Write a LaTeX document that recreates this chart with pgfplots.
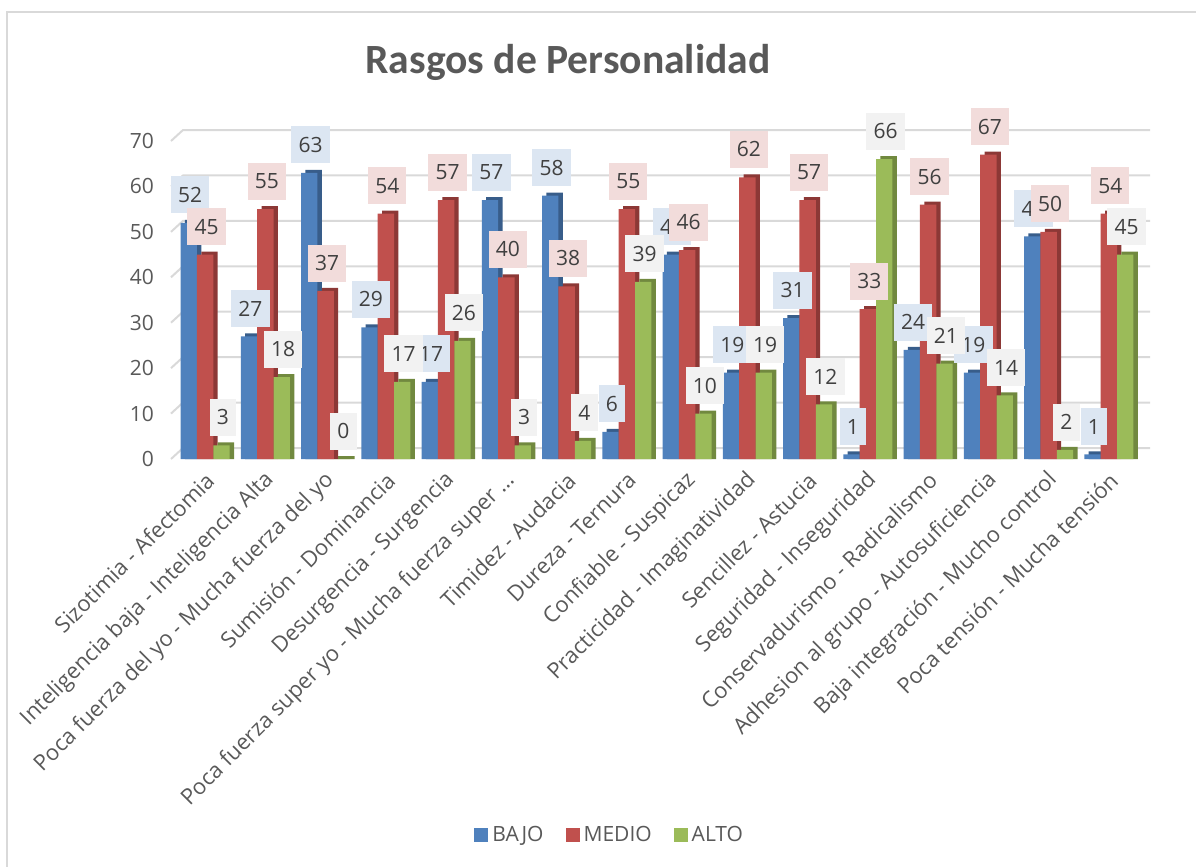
\documentclass[border=0pt]{standalone}
\usepackage{fontspec}
\setmainfont{Carlito}
\newfontfamily\osans{Open Sans}
\usepackage{pgfplots}
\usepackage{pgfplotstable}
\pgfplotsset{compat=1.18}

\definecolor{bajo}{HTML}{4F81BD}
\definecolor{bajod}{HTML}{385D8A}
\definecolor{bajol}{HTML}{DCE6F2}
\definecolor{medio}{HTML}{C0504D}
\definecolor{mediod}{HTML}{8C3836}
\definecolor{mediol}{HTML}{F2DCDB}
\definecolor{alto}{HTML}{9BBB59}
\definecolor{altod}{HTML}{71893F}
\definecolor{altol}{HTML}{F2F2F2}
\definecolor{txt}{HTML}{595959}
\definecolor{labtxt}{HTML}{404040}
\definecolor{gridc}{HTML}{D9D9D9}

\pgfplotstableread{
x bajo medio alto
0 52 45 3
1 27 55 18
2 63 37 0
3 29 54 17
4 17 57 26
5 57 40 3
6 58 38 4
7 6 55 39
8 45 46 10
9 19 62 19
10 31 57 12
11 1 33 66
12 24 56 21
13 19 67 14
14 49 50 2
15 1 54 45
}\rasgos

\tikzset{datalab/.style={font=\osans\fontsize{10.5}{12}\selectfont, text=labtxt,
  inner xsep=3.6pt, inner ysep=0pt, minimum height=18.5pt, anchor=south, yshift=4.5pt}}

\begin{document}
\begin{tikzpicture}
\useasboundingbox (0,0) rectangle (598pt,-433.5pt);
\draw[gridc, line width=1pt] (3.5pt,-440pt) -- (3.5pt,-6pt) -- (600pt,-6pt);
\node[font=\fontsize{20.8}{24}\selectfont\bfseries, text=txt] at (284pt,-31pt) {Rasgos de Personalidad};
\begin{axis}[
    at={(87.5pt,-229.5pt)}, anchor=south west,
    scale only axis, width=482pt, height=159pt,
    xmin=-0.5, xmax=15.5, ymin=0, ymax=70,
    ytick={0,10,20,30,40,50,60,70},
    xtick=data,
    xticklabels={{Sizotimia - Afectomia}, {Inteligencia baja - Inteligencia Alta},
      {Poca fuerza del yo - Mucha fuerza del yo}, {Sumisión - Dominancia},
      {Desurgencia - Surgencia}, {Poca fuerza super yo - Mucha fuerza super …},
      {Timidez - Audacia}, {Dureza - Ternura}, {Confiable - Suspicaz},
      {Practicidad - Imaginatividad}, {Sencillez - Astucia}, {Seguridad - Inseguridad},
      {Conservadurismo - Radicalismo}, {Adhesion al grupo - Autosuficiencia},
      {Baja integración - Mucho control}, {Poca tensión - Mucha tensión}},
    xticklabel style={rotate=45, anchor=east, font=\osans\fontsize{11}{13}\selectfont,
      text=txt, yshift=-8pt, xshift=-1pt},
    yticklabel style={font=\osans\fontsize{10.5}{12}\selectfont, text=txt, xshift=-7pt},
    /pgf/number format/assume math mode=true,
    axis line style={draw=none},
    major tick length=0pt,
    clip=false,
    legend style={at={(0.452,-1.182)}, anchor=center, draw=none,
      legend columns=3, font=\osans\fontsize{10.5}{12}\selectfont, text=txt,
      /tikz/every even column/.append style={column sep=9pt}},
    legend image code/.code={\fill[#1] (0pt,-3.5pt) rectangle (7pt,3.5pt);},
  ]
  \pgfplotsinvokeforeach{0,10,20,30,40,50,60,70}{
    \draw[gridc, line width=1pt] ([xshift=-2pt]axis cs:-0.5,#1) -- ++(6pt,5.5pt)
      -- ([xshift=5.5pt,yshift=5.5pt]axis cs:15.5,#1);
  }
  % BAJO
  \addplot[ybar, bar width=8.2pt, bar shift=-6pt, fill=bajod, draw=none, forget plot]
    table[x=x, y expr=\thisrow{bajo}+0.66]{\rasgos};
  \addplot[ybar, bar width=8.2pt, bar shift=-8.2pt, fill=bajo, draw=none]
    table[x=x, y=bajo]{\rasgos};
  \addlegendentry{BAJO}
  % MEDIO
  \addplot[ybar, bar width=8.2pt, bar shift=2.2pt, fill=mediod, draw=none, forget plot]
    table[x=x, y expr=\thisrow{medio}+0.66]{\rasgos};
  \addplot[ybar, bar width=8.2pt, bar shift=0pt, fill=medio, draw=none]
    table[x=x, y=medio]{\rasgos};
  \addlegendentry{MEDIO}
  % ALTO
  \addplot[ybar, bar width=8.2pt, bar shift=10.4pt, fill=altod, draw=none, forget plot]
    table[x=x, y expr=\thisrow{alto}+0.66]{\rasgos};
  \addplot[ybar, bar width=8.2pt, bar shift=8.2pt, fill=alto, draw=none]
    table[x=x, y=alto]{\rasgos};
  \addlegendentry{ALTO}
  % data labels on top
  \addplot[forget plot, draw=none, mark=none, nodes near coords,
    nodes near coords style={datalab, fill=bajol, xshift=-7.5pt}]
    table[x=x, y=bajo]{\rasgos};
  \addplot[forget plot, draw=none, mark=none, nodes near coords,
    nodes near coords style={datalab, fill=mediol, xshift=0.7pt}]
    table[x=x, y=medio]{\rasgos};
  \addplot[forget plot, draw=none, mark=none, nodes near coords,
    nodes near coords style={datalab, fill=altol, xshift=8.9pt}]
    table[x=x, y=alto]{\rasgos};
\end{axis}
\end{tikzpicture}
\end{document}
